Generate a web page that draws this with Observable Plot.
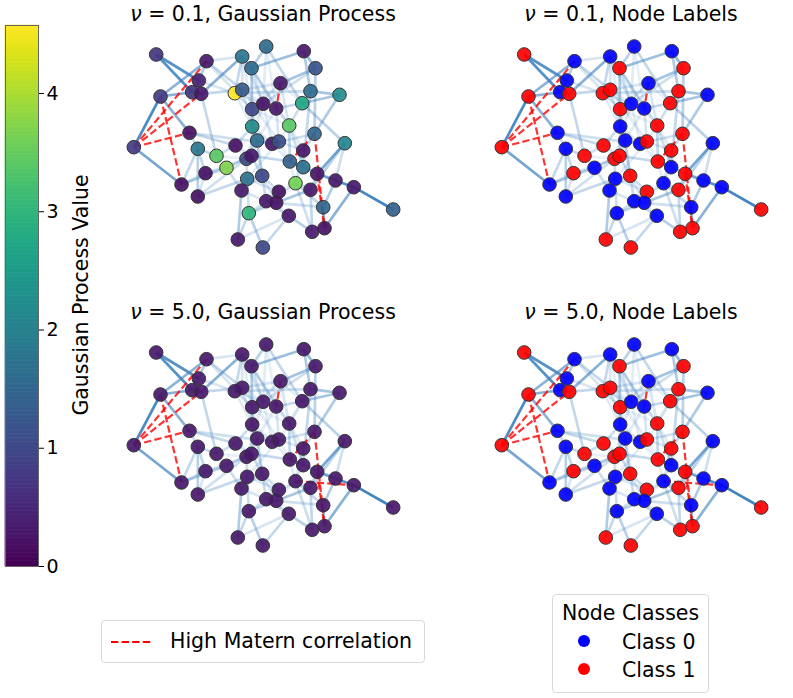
<!DOCTYPE html>
<html>
<head>
<meta charset="utf-8">
<script src="https://cdn.jsdelivr.net/npm/d3@7"></script>
<script src="https://cdn.jsdelivr.net/npm/@observablehq/plot@0.6"></script>
<style>
  body { margin: 0; background: #fff; font-family: "DejaVu Sans", sans-serif; }
  #root { position: relative; width: 793px; height: 698px; overflow: hidden; }
  .abs { position: absolute; }
  .title { position: absolute; font-size: 20.5px; color: #000; white-space: nowrap; transform: translateX(-50%); line-height: 1; }
  .legend { position: absolute; border: 1px solid #d9d9d9; border-radius: 4px; background: #fff; font-size: 20.5px; }
</style>
</head>
<body>
<div id="root"></div>
<script>
// ---- Data ----
const nodeX = [155.7,206,198.3,191.7,200.7,160,133.3,189,181,197.3,197.3,216,226,205,235,241.7,265.7,251,234.3,241.7,251.7,262.7,280,275.7,303.3,315,310,301.7,339,251.7,288.7,256.7,271.7,278.3,314,344.3,302.7,246,251,289.3,302.7,246.7,261.7,241,295,316.7,335,353.3,392.7,310,278.3,265.7,275.7,248.3,288.3,322.7,311.7,324,237.3,262.3];
const nodeY = [54,60.7,80,91.7,93.3,96,146.7,132.3,184,196,148.3,155.3,167.3,172.7,145,56,46,67.7,92.7,89.3,108.7,103.3,82.7,108,50.7,67.7,90.7,102.7,94.3,126,125,140,143.3,141,133.3,142.7,150,158.3,155.3,161,166.7,178.3,175.3,190,182.7,173.3,180,186.7,209,189.3,191.3,200.7,202.3,212.7,215.3,206.7,231.3,227.7,239,247];
const gpNu01 = [0.7,0.3,0.4,0.7,0.3,0.8,0.8,0.2,0.2,0.2,1.8,3.4,3.7,0.2,0.2,1.8,1.6,1.6,4.57,1.3,1.0,0.2,0.3,0.3,0.3,1.2,1.6,2.7,2.2,2.2,3.4,1.6,0.3,1.1,1.5,2.1,0.3,1.0,0.3,1.4,1.7,1.7,1.0,0.3,3.6,0.3,0.3,0.3,1.4,0.3,0.2,0.3,0.2,3.0,0.3,1.5,0.3,0.2,0.3,1.0];
const gpNu50 = [0.3,0.3,0.3,0.3,0.3,0.3,0.3,0.3,0.3,0.3,0.3,0.3,0.3,0.3,0.3,0.3,0.3,0.3,0.3,0.3,0.3,0.3,0.3,0.3,0.3,0.3,0.3,0.3,0.3,0.3,0.3,0.3,0.3,0.3,0.3,0.3,0.3,0.3,0.3,0.3,0.3,0.3,0.3,0.3,0.3,0.3,0.3,0.3,0.3,0.3,0.3,0.3,0.3,0.3,0.3,0.3,0.3,0.3,0.3,0.3];
const nodeClass = [1,0,0,0,1,1,1,0,0,0,0,1,0,1,1,0,0,1,1,1,1,0,0,0,0,1,1,1,0,0,1,0,0,1,1,0,1,1,1,1,0,0,1,0,0,1,0,0,1,1,1,0,0,0,0,0,1,1,1,1];
const edgeA = [1,1,6,7,2,6,6,5,2,3,4,16,17,18,25,25,23,27,28,29,28,36,46,47,48,48,56,36,9,9,10,10,10,11,11,5,8,8,2,2,3,5,16,16,17,18,18,18,18,18,19,20,21,22,24,26,27,28,31,31,30,30,32,32,33,34,34,15,15,13,13,14,38,39,40,40,41,37,37,42,43,43,44,54,54,54,54,55,55,45,45,50,46,52,51,52,53,55,57,56,36,42,44,39,21,22,19,20,21,24,22,30,34,32,33,23,14,14,8,27,
  19,19,20,21,22,22,24,23,30,32,33,30,31,31,34,38,39,42,43,44,12,13,15,12,32,40,41,37,51,50,45,53,52,16,16,2,19,20,21,17,17];
const edgeB = [3,4,7,9,6,4,8,16,3,4,5,18,18,25,26,27,26,29,29,35,36,46,47,48,49,58,58,50,11,13,11,42,38,12,14,12,15,33,20,21,19,20,19,22,28,21,22,24,30,31,27,23,23,26,28,35,41,31,40,41,15,33,38,43,35,37,24,39,12,39,44,38,42,40,41,47,46,35,45,51,51,44,59,59,60,50,45,60,59,56,50,57,50,53,53,57,56,57,45,47,47,54,52,53,32,33,30,34,39,32,38,43,42,52,40,31,9,10,11,28,
  21,22,22,30,30,24,31,28,32,33,34,39,34,37,40,39,43,43,52,42,13,14,38,38,39,45,45,41,52,53,53,55,55,20,21,16,24,30,31,22,24];
const edgeW = [0.85,0.85,0.9,0.7,0.6,0.6,0.6,0.6,0.4,0.4,0.4,0.4,0.35,0.5,0.55,0.4,0.45,0.45,0.45,0.4,0.35,0.7,0.6,0.85,0.95,0.6,0.55,0.35,0.3,0.35,0.35,0.3,0.25,0.3,0.3,0.3,0.3,0.25,0.3,0.2,0.2,0.3,0.3,0.2,0.3,0.25,0.25,0.25,0.2,0.2,0.25,0.2,0.2,0.25,0.3,0.35,0.3,0.25,0.3,0.25,0.25,0.2,0.2,0.2,0.25,0.2,0.2,0.2,0.25,0.3,0.25,0.2,0.25,0.3,0.3,0.3,0.3,0.3,0.2,0.2,0.25,0.2,0.4,0.3,0.35,0.35,0.25,0.3,0.2,0.3,0.25,0.3,0.3,0.3,0.25,0.2,0.25,0.2,0.25,0.4,0.25,0.25,0.2,0.2,0.15,0.15,0.15,0.15,0.15,0.15,0.15,0.15,0.15,0.15,0.15,0.2,0.25,0.2,0.25,0.25,
  0.12,0.1,0.12,0.15,0.1,0.12,0.15,0.12,0.1,0.15,0.12,0.1,0.12,0.15,0.12,0.15,0.1,0.12,0.15,0.1,0.15,0.12,0.1,0.12,0.1,0.15,0.12,0.1,0.15,0.12,0.1,0.15,0.12,0.2,0.15,0.2,0.1,0.12,0.1,0.15,0.12];
const dashNu01 = [[7,2],[7,5],[7,8],[6,9],[23,24],[35,40],[35,58],[46,58]];
const dashNu50 = [[7,2],[7,5],[7,8],[6,9],[23,24],[35,40],[35,58],[46,58],[45,48]];
const cbTicks = [0,1,2,3,4];
const gpMax = 4.575;

// ---- Build ----
const root = document.getElementById("root");
const edges = edgeA.map((a, i) => ({x1: nodeX[a-1], y1: nodeY[a-1], x2: nodeX[edgeB[i]-1], y2: nodeY[edgeB[i]-1], w: edgeW[i]}));
const toLinks = pairs => pairs.map(([a,b]) => ({x1: nodeX[a-1], y1: nodeY[a-1], x2: nodeX[b-1], y2: nodeY[b-1]}));

function panel(values, dashed) {
  const nodes = nodeX.map((x, i) => ({x, y: nodeY[i], v: values ? values[i] : null, c: nodeClass[i]}));
  return Plot.plot({
    width: 290, height: 230, margin: 0,
    style: {background: "transparent", overflow: "visible"},
    x: {domain: [120, 410], axis: null},
    y: {domain: [260, 30], axis: null},
    opacity: {domain: [0, 1], range: [0.12, 1]},
    color: values ? {type: "linear", scheme: "viridis", domain: [0, gpMax]} : {type: "ordinal", domain: [0, 1], range: ["#0000ff", "#ff0000"]},
    marks: [
      Plot.link(edges, {x1: "x1", y1: "y1", x2: "x2", y2: "y2", stroke: "#3a7fbd", strokeOpacity: "w", strokeWidth: 2.7}),
      Plot.link(toLinks(dashed), {x1: "x1", y1: "y1", x2: "x2", y2: "y2", stroke: "#ff0000", strokeOpacity: 0.8, strokeWidth: 2.2, strokeDasharray: "7.4,3.2"}),
      Plot.dot(nodes, {x: "x", y: "y", r: 6.8, fill: values ? "v" : "c", fillOpacity: 0.92, stroke: "#333", strokeWidth: 1})
    ]
  });
}

function place(el, left, top) { el.classList.add("abs"); el.style.left = left + "px"; el.style.top = top + "px"; root.appendChild(el); }

const dy = 297.5, dx = 368;
place(panel(gpNu01, dashNu01), 120, 30);
place(panel(null, dashNu01), 120 + dx, 30);
place(panel(gpNu50, dashNu50), 120, 30 + dy);
place(panel(null, dashNu50), 120 + dx, 30 + dy);

function title(html, cx, top) {
  const d = document.createElement("div"); d.className = "title"; d.innerHTML = html;
  d.style.left = cx + "px"; d.style.top = top + "px"; root.appendChild(d);
}
title("<i>ν</i> = 0.1, Gaussian Process", 263, 4);
title("<i>ν</i> = 0.1, Node Labels", 631, 4);
title("<i>ν</i> = 5.0, Gaussian Process", 263, 4 + dy);
title("<i>ν</i> = 5.0, Node Labels", 631, 4 + dy);

// ---- Colorbar ----
const slices = d3.range(0, 400).map(i => ({y1: i * gpMax / 400, y2: (i + 1) * gpMax / 400}));
const cb = Plot.plot({
  width: 120, height: 561, marginTop: 10, marginBottom: 10, marginLeft: 5, marginRight: 82,
  style: {background: "transparent", overflow: "visible", fontSize: "19px", fontFamily: "DejaVu Sans, sans-serif", color: "#000"},
  x: {domain: [0, 1], axis: null},
  y: {domain: [0, gpMax], axis: "right", ticks: cbTicks, tickSize: 5, tickPadding: 3, label: null, tickFormat: d3.format("d")},
  color: {type: "linear", scheme: "viridis", domain: [0, gpMax]},
  marks: [
    Plot.rect(slices, {x1: 0, x2: 1, y1: "y1", y2: "y2", fill: "y1", inset: -0.3}),
    Plot.frame({stroke: "#666", strokeWidth: 1})
  ]
});
place(cb, 0, 15);
const cbl = document.createElement("div");
cbl.textContent = "Gaussian Process Value";
cbl.style.cssText = "position:absolute;left:81px;top:295px;font-size:20.5px;white-space:nowrap;transform:translate(-50%,-50%) rotate(-90deg);";
root.appendChild(cbl);

// ---- Legends ----
const l1 = document.createElement("div");
l1.className = "legend";
l1.style.cssText += "left:101px;top:620px;width:322px;height:41px;";
l1.innerHTML = '<svg width="60" height="41" style="position:absolute;left:0;top:0"><line x1="9" y1="21" x2="51" y2="21" stroke="#ff0000" stroke-width="2.2" stroke-dasharray="7.4,3.2"/></svg>' +
  '<span style="position:absolute;left:68px;top:8px;white-space:nowrap">High Matern correlation</span>';
root.appendChild(l1);

const l2 = document.createElement("div");
l2.className = "legend";
l2.style.cssText += "left:552px;top:594px;width:155px;height:97px;";
l2.innerHTML = '<div style="position:absolute;left:0;width:155px;top:6px;text-align:center">Node Classes</div>' +
  '<svg width="50" height="97" style="position:absolute;left:0;top:0"><circle cx="31" cy="46" r="6" fill="#0000ff"/><circle cx="31" cy="74" r="6" fill="#ff0000"/></svg>' +
  '<span style="position:absolute;left:69px;top:35px;white-space:nowrap">Class 0</span>' +
  '<span style="position:absolute;left:69px;top:63px;white-space:nowrap">Class 1</span>';
root.appendChild(l2);
</script>
</body>
</html>
